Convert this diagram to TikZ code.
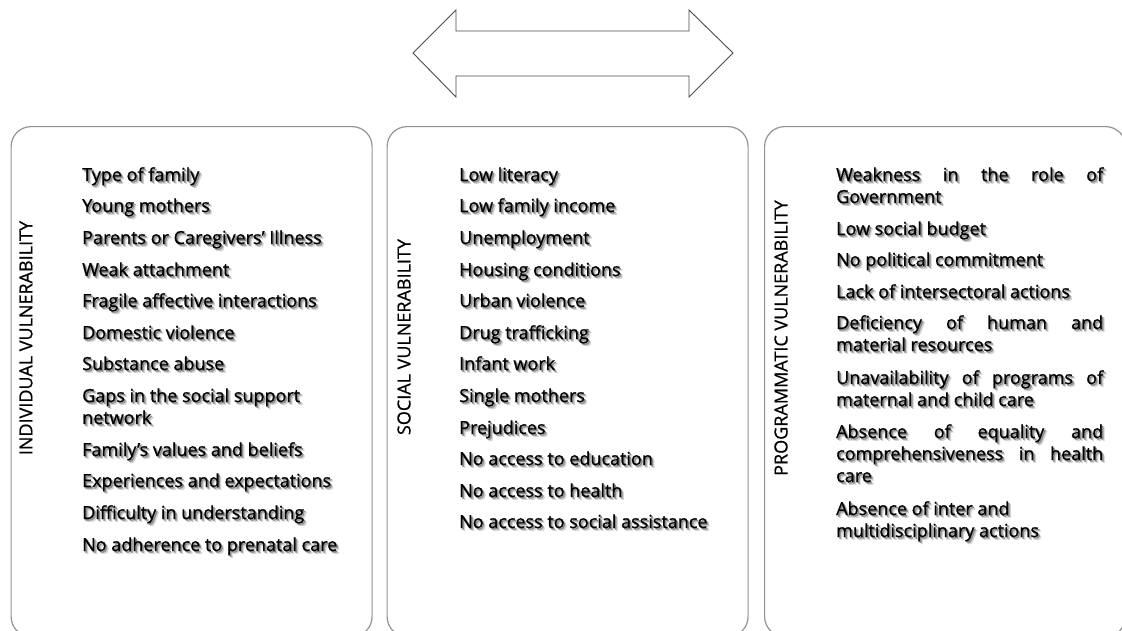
\documentclass[tikz,border=0pt]{standalone}
\usepackage{fontspec}
\setmainfont{Open Sans}
\newfontfamily\itmfont[FakeBold=0.9]{Open Sans}
\newfontfamily\lblfont[FakeBold=0.7]{Open Sans}
\newcommand\itm[4]{%
  \node[itm,#3,text=black!18,xshift=2.8pt,yshift=-2.8pt] at (#2) {#4};
  \node[itm,#3,text=black!45,xshift=1.5pt,yshift=-1.5pt] at (#2) {#4};
  \node[itm,#3] (#1) at (#2) {#4};}
\begin{document}
\begin{tikzpicture}[x=1pt,y=-1pt,
  panel/.style={draw=black!42,line width=1.2pt,rounded corners=20pt,fill=white,
    anchor=north west,minimum width=361pt,minimum height=510pt,inner sep=0},
  itm/.style={anchor=base west,inner sep=0,align=left,
    font=\itmfont\fontsize{18}{22}\selectfont},
  jst/.style={text width=267pt,align=justify},
  vlabel/.style={rotate=90,inner sep=0,font=\lblfont\fontsize{18}{22}\selectfont},
  bigarrow/.style={draw=black!70,line width=0.9pt,fill=white,line join=miter}]
\useasboundingbox (0,0) rectangle (1122,630);
\clip (0,0) rectangle (1122,630);
\fill[white] (0,0) rectangle (1122,630);
% double arrow
\draw[bigarrow] (413,53) -- (456,10) -- (456,31) -- (689,31) -- (689,10) -- (733,53)
  -- (689,97) -- (689,76) -- (456,76) -- (456,97) -- cycle;
% panels
\node[panel] (p1) at (10.5,126) {};
\node[panel] (p2) at (386.5,126) {};
\node[panel] (p3) at (764,126) {};
% vertical labels
\node[vlabel] (l1) at (26,338) {INDIVIDUAL VULNERABILITY};
\node[vlabel] (l2) at (404,337) {SOCIAL VULNERABILITY};
\node[vlabel] (l3) at (781,338) {PROGRAMMATIC VULNERABILITY};
% panel 1
\itm{a1}{82,181}{}{Type of family}
\itm{a2}{82,212}{}{Young mothers}
\itm{a3}{82,244}{}{Parents or Caregivers’ Illness}
\itm{a4}{82,276}{}{Weak attachment}
\itm{a5}{82,307}{}{Fragile affective interactions}
\itm{a6}{82,339}{}{Domestic violence}
\itm{a7}{82,370}{}{Substance abuse}
\itm{a8}{82,424}{}{Gaps in the social support\\network}
\itm{a9}{82,456}{}{Family’s values and beliefs}
\itm{a10}{82,487}{}{Experiences and expectations}
\itm{a11}{82,519}{}{Difficulty in understanding}
\itm{a12}{82,551}{}{No adherence to prenatal care}
% panel 2
\itm{b1}{459,181}{}{Low literacy}
\itm{b2}{459,212}{}{Low family income}
\itm{b3}{459,244}{}{Unemployment}
\itm{b4}{459,276}{}{Housing conditions}
\itm{b5}{459,307}{}{Urban violence}
\itm{b6}{459,339}{}{Drug trafficking}
\itm{b7}{459,370}{}{Infant work}
\itm{b8}{459,402}{}{Single mothers}
\itm{b9}{459,434}{}{Prejudices}
\itm{b10}{459,465}{}{No access to education}
\itm{b11}{459,497}{}{No access to health}
\itm{b12}{459,528}{}{No access to social assistance}
% panel 3
\itm{c1}{836,181}{jst}{Weakness in the role of\linebreak Government}
\itm{c2}{836,235}{}{Low social budget}
\itm{c3}{836,266}{}{No political commitment}
\itm{c4}{836,298}{}{Lack of intersectoral actions}
\itm{c5}{836,329}{jst}{Deficiency of human and\linebreak material resources}
\itm{c6}{836,384}{jst}{Unavailability of programs of\linebreak maternal and child care}
\itm{c7}{836,438}{jst}{Absence of equality and\linebreak comprehensiveness in health\linebreak care}
\itm{c8}{836,537}{}{Absence of inter and\\multidisciplinary actions}
\end{tikzpicture}
\end{document}
